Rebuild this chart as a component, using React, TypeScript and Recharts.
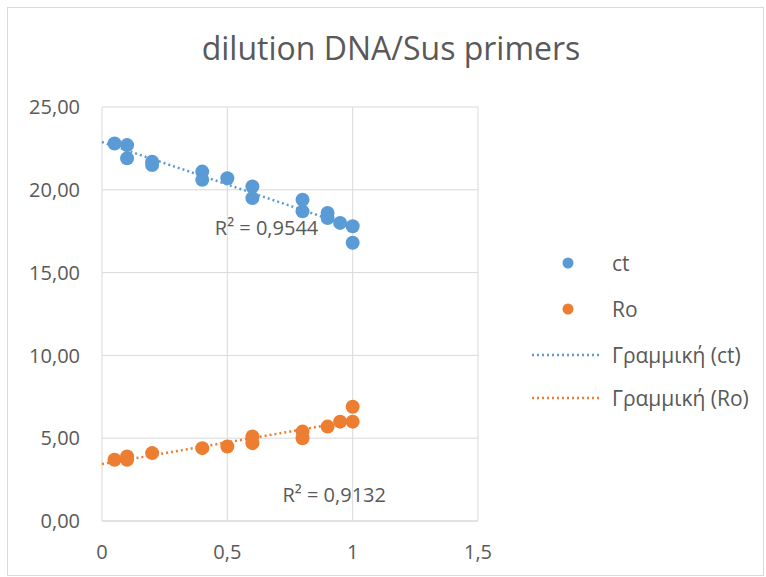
import React from 'react'
import { ScatterChart, Scatter, XAxis, YAxis, CartesianGrid, ReferenceDot } from 'recharts'

// values
const ctX = [0.05, 0.1, 0.1, 0.2, 0.2, 0.4, 0.4, 0.5, 0.6, 0.6, 0.8, 0.8, 0.9, 0.9, 0.95, 1, 1]
const ctY = [22.8, 22.7, 21.9, 21.7, 21.5, 21.1, 20.6, 20.7, 20.2, 19.5, 19.4, 18.7, 18.6, 18.3, 18.0, 17.8, 16.8]
const roX = [0.05, 0.1, 0.1, 0.2, 0.4, 0.5, 0.6, 0.6, 0.8, 0.8, 0.9, 0.95, 1, 1]
const roY = [3.7, 3.9, 3.7, 4.1, 4.4, 4.5, 5.1, 4.7, 5.4, 5.0, 5.7, 6.0, 6.0, 6.9]

const xTicks = [0, 0.5, 1, 1.5]
const yTicks = [0, 5, 10, 15, 20, 25]
const r2Labels = ['R² = 0,9544', 'R² = 0,9132']
const seriesNames = ['ct', 'Ro', 'Γραμμική (ct)', 'Γραμμική (Ro)']

const BLUE = '#5B9BD5'
const ORANGE = '#ED7D31'
const GRAY = '#595959'
const FONT = '"Open Sans", Lato, sans-serif'

const toPoints = (xs: number[], ys: number[]) => xs.map((x, i) => ({ x, y: ys[i] }))

// least-squares line, same as Excel's linear trendline
function trend(pts: { x: number; y: number }[], from: number, to: number) {
    const n = pts.length
    const mx = pts.reduce((s, p) => s + p.x, 0) / n
    const my = pts.reduce((s, p) => s + p.y, 0) / n
    let num = 0
    let den = 0
    pts.forEach((p) => {
        num += (p.x - mx) * (p.y - my)
        den += (p.x - mx) * (p.x - mx)
    })
    const b = num / den
    const a = my - b * mx
    return [
        { x: from, y: a + b * from },
        { x: to, y: a + b * to },
    ]
}

const ctData = toPoints(ctX, ctY)
const roData = toPoints(roX, roY)
const ctTrend = trend(ctData, 0, 1)
const roTrend = trend(roData, 0, 1)

const dot = (color: string) => (props: any) => (
    <circle cx={props.cx} cy={props.cy} r={7} fill={color} />
)
const noShape = () => <g />

function LegendRow({ top, kind, color, text }: { top: number; kind: 'dot' | 'line'; color: string; text: string }) {
    return (
        <div style={{ position: 'absolute', left: 530, top: top - 14, height: 28, display: 'flex', alignItems: 'center' }}>
            <svg width={76} height={28}>
                {kind === 'dot' ? (
                    <circle cx={38} cy={14} r={5.5} fill={color} />
                ) : (
                    <line x1={2} y1={14} x2={70} y2={14} stroke={color} strokeWidth={2.5} strokeDasharray="2 3" />
                )}
            </svg>
            <span style={{ marginLeft: 6, fontSize: 21, color: GRAY, lineHeight: '28px' }}>{text}</span>
        </div>
    )
}

export default function App() {
    return (
        <div style={{ position: 'absolute', left: 0, top: 0, width: 766, height: 577, background: '#fff', fontFamily: FONT }}>
            <div
                style={{
                    position: 'absolute',
                    left: 7,
                    top: 7,
                    width: 755,
                    height: 567,
                    border: '1px solid #d9d9d9',
                }}
            />
            <div
                style={{
                    position: 'absolute',
                    left: 0,
                    width: 782,
                    top: 27,
                    textAlign: 'center',
                    fontSize: 32,
                    lineHeight: '42px',
                    color: GRAY,
                }}
            >
                dilution DNA/Sus primers
            </div>

            <div style={{ position: 'absolute', left: 0, top: 0 }}>
                <ScatterChart width={766} height={577} margin={{ top: 107, right: 288, bottom: 16, left: 22 }}>
                    <CartesianGrid stroke="#d9d9d9" />
                    <XAxis
                        type="number"
                        dataKey="x"
                        domain={[0, 1.5]}
                        ticks={xTicks}
                        height={40}
                        axisLine={{ stroke: '#d9d9d9' }}
                        tickLine={false}
                        tickSize={0}
                        tickMargin={24}
                        tick={{ fill: GRAY, fontSize: 20, fontFamily: FONT }}
                        tickFormatter={(v: number) => String(v).replace('.', ',')}
                    />
                    <YAxis
                        type="number"
                        dataKey="y"
                        domain={[0, 25]}
                        ticks={yTicks}
                        width={80}
                        axisLine={false}
                        tickLine={false}
                        tickSize={0}
                        tickMargin={22}
                        tick={{ fill: GRAY, fontSize: 20, fontFamily: FONT }}
                        tickFormatter={(v: number) => v.toFixed(2).replace('.', ',')}
                    />
                    <Scatter
                        name={seriesNames[2]}
                        data={ctTrend}
                        line={{ stroke: BLUE, strokeWidth: 2.5, strokeDasharray: '2 3' }}
                        shape={noShape}
                        isAnimationActive={false}
                    />
                    <Scatter
                        name={seriesNames[3]}
                        data={roTrend}
                        line={{ stroke: ORANGE, strokeWidth: 2.5, strokeDasharray: '2 3' }}
                        shape={noShape}
                        isAnimationActive={false}
                    />
                    <Scatter name={seriesNames[0]} data={ctData} shape={dot(BLUE)} isAnimationActive={false} />
                    <Scatter name={seriesNames[1]} data={roData} shape={dot(ORANGE)} isAnimationActive={false} />
                    <ReferenceDot
                        x={0.45}
                        y={17.7}
                        r={0}
                        fill="none"
                        stroke="none"
                        label={{ value: r2Labels[0], position: 'right', offset: 0, fill: GRAY, fontSize: 20, fontFamily: FONT }}
                    />
                    <ReferenceDot
                        x={0.72}
                        y={1.57}
                        r={0}
                        fill="none"
                        stroke="none"
                        label={{ value: r2Labels[1], position: 'right', offset: 0, fill: GRAY, fontSize: 20, fontFamily: FONT }}
                    />
                </ScatterChart>
            </div>

            <LegendRow top={263} kind="dot" color={BLUE} text={seriesNames[0]} />
            <LegendRow top={309} kind="dot" color={ORANGE} text={seriesNames[1]} />
            <LegendRow top={355} kind="line" color={BLUE} text={seriesNames[2]} />
            <LegendRow top={398} kind="line" color={ORANGE} text={seriesNames[3]} />
        </div>
    )
}
